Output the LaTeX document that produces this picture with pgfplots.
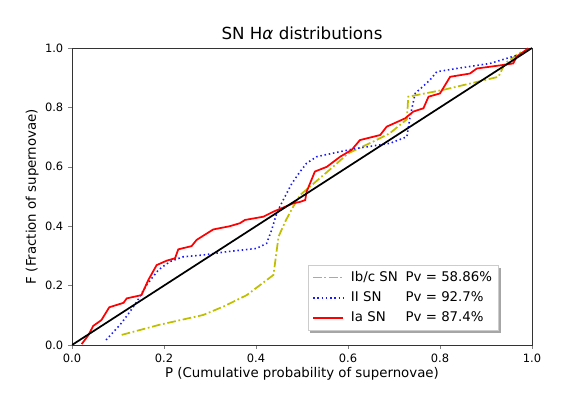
\documentclass[border=0pt]{standalone}
\usepackage{pgfplots}
\pgfplotsset{compat=1.18}
\usepackage{fontspec}
\setmainfont{DejaVu Sans}
\usetikzlibrary{backgrounds}

\definecolor{mplolive}{rgb}{0.75,0.75,0}

\begin{document}
\begin{tikzpicture}
\begin{axis}[
    name=ax,
    scale only axis,
    width=345pt,
    height=222.75pt,
    xmin=0, xmax=1,
    ymin=0, ymax=1,
    xtick={0,0.2,...,1},
    ytick={0,0.2,...,1},
    xticklabel style={/pgf/number format/.cd, fixed, fixed zerofill, precision=1},
    yticklabel style={/pgf/number format/.cd, fixed, fixed zerofill, precision=1},
    /pgf/number format/assume math mode=true,
    tick label style={font=\fontsize{8.6}{10}\selectfont},
    label style={font=\fontsize{10}{12}\selectfont},
    tick align=outside,
    tick pos=left,
    major tick length=3pt,
    axis line style={black!80, line width=0.6pt},
    title={SN H\textit{α} distributions},
    title style={font=\fontsize{12.5}{14}\selectfont, yshift=-3pt},
    xlabel={P (Cumulative probability of supernovae)},
    ylabel={F (Fraction of supernovae)},
    xlabel style={yshift=3pt},
    ylabel style={yshift=-2pt},
    legend cell align=left,
    legend style={
        name=lg,
        at={(0.513,0.05)}, anchor=south west,
        font=\fontsize{10}{12}\selectfont,
        draw=black!20, fill=white,
        row sep=2.2pt, inner xsep=3pt, inner ysep=2.5pt
    },
    legend image code/.code={
        \draw[#1] (0cm,0cm) -- (0.8cm,0cm);
    },
]

\addplot[mplolive, line width=1.3pt, dash pattern=on 6.5pt off 2pt on 1.3pt off 2pt] coordinates {
    (0.108,0.034) (0.19,0.068) (0.285,0.101) (0.33,0.13) (0.38,0.168)
    (0.438,0.236) (0.449,0.365) (0.465,0.42) (0.481,0.466) (0.496,0.505)
    (0.53,0.55) (0.572,0.606) (0.6,0.645) (0.655,0.685) (0.691,0.713)
    (0.713,0.741) (0.728,0.76) (0.731,0.836) (0.807,0.859) (0.927,0.903)
    (0.941,0.948) (0.98,0.99)
};
\addlegendentry{\hspace{3pt}\makebox[41pt][l]{Ib/c SN}Pv = 58.86\%}

\addplot[blue!90!white, line width=1.2pt, dash pattern=on 1.1pt off 2.1pt] coordinates {
    (0.074,0.017) (0.104,0.067) (0.125,0.11) (0.141,0.146) (0.162,0.202)
    (0.188,0.253) (0.213,0.281) (0.242,0.297) (0.285,0.303) (0.336,0.314)
    (0.401,0.325) (0.423,0.342) (0.434,0.387) (0.445,0.444) (0.459,0.488)
    (0.478,0.544) (0.496,0.584) (0.51,0.612) (0.532,0.634) (0.583,0.651)
    (0.619,0.662) (0.691,0.679) (0.728,0.701) (0.735,0.769) (0.746,0.847)
    (0.778,0.892) (0.793,0.92) (0.836,0.931) (0.909,0.948) (0.981,0.982)
};
\addlegendentry{\hspace{3pt}\makebox[41pt][l]{II SN}Pv = 92.7\%}

\addplot[red, line width=1.3pt] coordinates {
    (0.021,0.003) (0.036,0.034) (0.046,0.064) (0.064,0.084) (0.081,0.127)
    (0.112,0.142) (0.119,0.157) (0.151,0.168) (0.166,0.219) (0.184,0.269)
    (0.206,0.284) (0.224,0.292) (0.231,0.322) (0.26,0.333) (0.271,0.354)
    (0.307,0.389) (0.343,0.4) (0.365,0.41) (0.376,0.421) (0.416,0.432)
    (0.438,0.449) (0.481,0.477) (0.496,0.482) (0.507,0.488) (0.51,0.516)
    (0.528,0.584) (0.554,0.6) (0.583,0.634) (0.608,0.657) (0.626,0.69)
    (0.67,0.707) (0.684,0.735) (0.724,0.763) (0.742,0.786) (0.764,0.797)
    (0.775,0.836) (0.8,0.847) (0.822,0.903) (0.865,0.914) (0.88,0.931)
    (0.938,0.943) (0.959,0.948) (0.967,0.971) (0.992,0.999)
};
\addlegendentry{\hspace{3pt}\makebox[41pt][l]{Ia SN}Pv = 87.4\%}

% diagonal reference
\addplot[black, line width=1.3pt, forget plot] coordinates {(0,0) (1,1)};

\end{axis}
% legend shadow
\begin{scope}[on background layer]
\fill[black!35] ([xshift=1.8pt,yshift=-1.8pt]lg.south west) rectangle ([xshift=1.8pt,yshift=-1.8pt]lg.north east);
\end{scope}
\useasboundingbox ([xshift=-54pt,yshift=-37.5pt]ax.south west) rectangle ([xshift=31.5pt,yshift=36pt]ax.north east);
\end{tikzpicture}
\end{document}
